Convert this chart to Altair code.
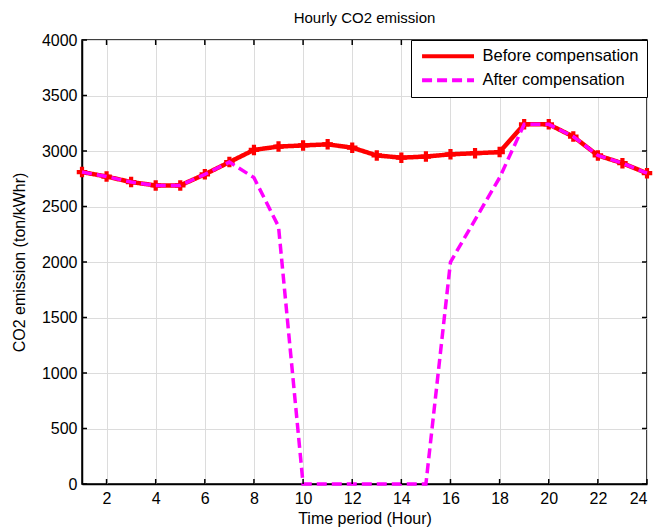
import altair as alt
import pandas as pd

hours = list(range(1, 25))
before = [2810, 2770, 2720, 2690, 2690, 2790, 2900, 3010, 3040, 3050, 3060, 3030,
          2960, 2940, 2950, 2970, 2980, 2990, 3240, 3240, 3130, 2960, 2890, 2800]
after = [2810, 2770, 2720, 2690, 2690, 2790, 2900, 2760, 2320, 0, 0, 0,
         0, 0, 0, 2000, 2380, 2760, 3240, 3240, 3130, 2960, 2890, 2800]
x_ticks = list(range(2, 25, 2))
y_ticks = list(range(0, 4001, 500))

S1 = "Before compensation"
S2 = "After compensation"

df = pd.DataFrame({
    "hour": hours * 2,
    "value": before + after,
    "series": [S1] * 24 + [S2] * 24,
})
xt = pd.DataFrame({"t": x_ticks})
yt = pd.DataFrame({"t": y_ticks})

W, H = 565, 444
FONT = "Liberation Sans"

xscale = alt.Scale(domain=[1, 24], nice=False, zero=False)
yscale = alt.Scale(domain=[0, 4000], nice=False)

X = alt.X("hour:Q", scale=xscale,
          axis=alt.Axis(values=x_ticks, title="Time period (Hour)", grid=True,
                        ticks=False, labelPadding=6, titlePadding=4, format="d"))
Y = alt.Y("value:Q", scale=yscale,
          axis=alt.Axis(values=y_ticks, title="CO2 emission (ton/kWhr)", grid=True,
                        ticks=False, labelPadding=5, titlePadding=14, format="d"))

color = alt.Color("series:N",
                  scale=alt.Scale(domain=[S1, S2], range=["#ff0000", "#ff00ff"]),
                  legend=alt.Legend(title=None, orient="top-right", offset=0,
                                    symbolType="M-1,0L9,0", symbolSize=108,
                                    symbolStrokeWidth=4, labelFontSize=16.5,
                                    labelFont=FONT, labelColor="black",
                                    padding=8, rowPadding=7,
                                    labelOffset=47,
                                    strokeColor="black", fillColor="white",
                                    cornerRadius=0))
dash = alt.StrokeDash("series:N",
                      scale=alt.Scale(domain=[S1, S2], range=[[1, 0], [10, 5]]),
                      legend=None)

base = alt.Chart(df)
red_line = base.transform_filter(alt.datum.series == S1).mark_line(strokeWidth=4.5).encode(
    x=X, y=Y, color=color, strokeDash=dash)
red_pts = base.transform_filter(alt.datum.series == S1).mark_point(
    shape="cross", filled=True, size=110, color="#ff0000", opacity=1).encode(x=X, y=Y)
mag_line = base.transform_filter(alt.datum.series == S2).mark_line(strokeWidth=3.5).encode(
    x=X, y=Y, color=color, strokeDash=dash)

tk = 5
xb = alt.Chart(xt).mark_rule(color="black", strokeWidth=1.5).encode(
    x=alt.X("t:Q", scale=xscale), y=alt.value(H), y2=alt.value(H - tk))
xtop = alt.Chart(xt).mark_rule(color="black", strokeWidth=1.5).encode(
    x=alt.X("t:Q", scale=xscale), y=alt.value(0), y2=alt.value(tk))
yl = alt.Chart(yt).mark_rule(color="black", strokeWidth=1.5).encode(
    y=alt.Y("t:Q", scale=yscale), x=alt.value(0), x2=alt.value(tk))
yr = alt.Chart(yt).mark_rule(color="black", strokeWidth=1.5).encode(
    y=alt.Y("t:Q", scale=yscale), x=alt.value(W), x2=alt.value(W - tk))

chart = alt.layer(red_line, red_pts, mag_line, xb, xtop, yl, yr).properties(
    width=W, height=H,
    title=alt.Title("Hourly CO2 emission", fontSize=15, fontWeight="normal",
                    font=FONT, offset=6, anchor="middle", color="black"),
    autosize="none",
    background="white",
    padding={"left": 82, "top": 40, "right": 23, "bottom": 43},
).configure_view(stroke="black", strokeWidth=1.5).configure_axis(
    labelFont=FONT, titleFont=FONT, labelFontSize=16, titleFontSize=16,
    titleFontWeight="normal", labelColor="black", titleColor="black",
    gridColor="#dcdcdc", gridWidth=1, domainColor="black", domainWidth=1.5,
)

chart.save("out.html", embed_options={"renderer": "svg", "actions": False})
